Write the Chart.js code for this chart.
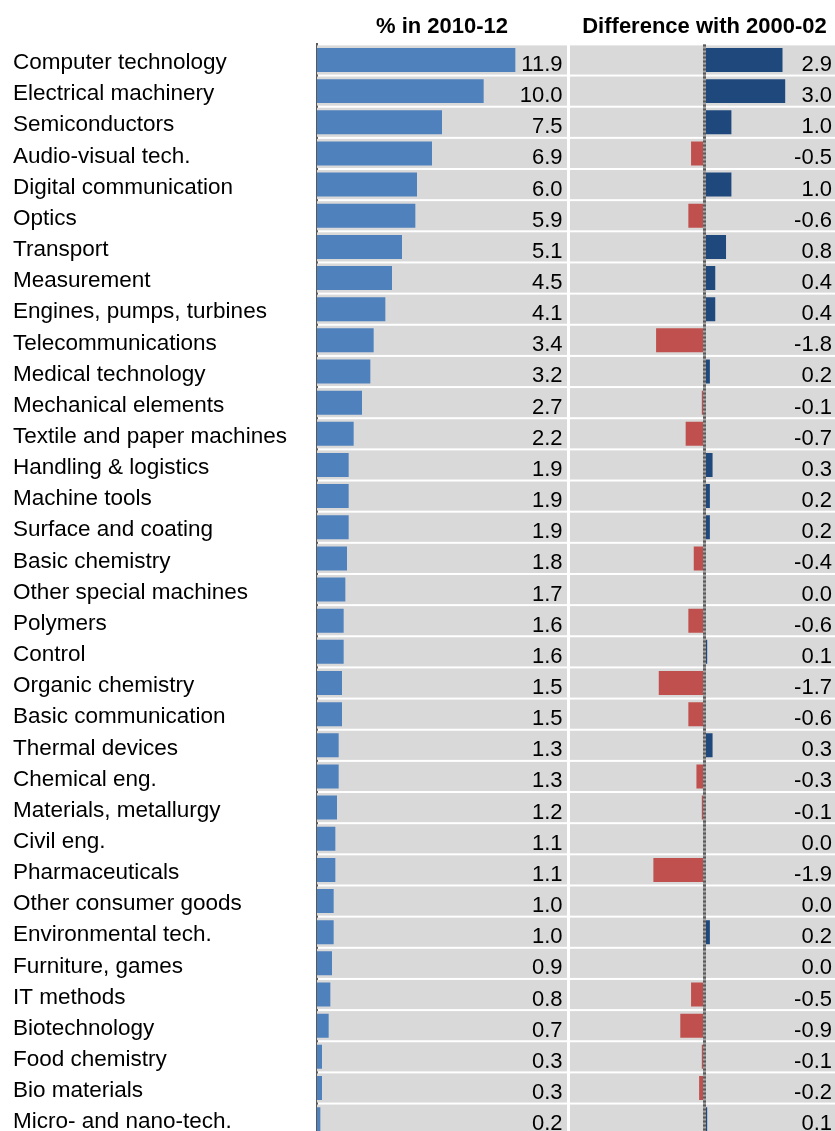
<!DOCTYPE html>
<html>
<head>
<meta charset="utf-8">
<script src="https://cdn.jsdelivr.net/npm/chart.js@4"></script>
<style>
    body { margin: 0; background: #fff; overflow: hidden; }
    .amb-chart { position: relative; width: 835px; height: 1131px; overflow: hidden; }
    #grafic-share { position: absolute; left: 0; top: 0; }
    #grafic-diff { position: absolute; left: 568px; top: 0; }
</style>
</head>
<body>
<div class="amb-chart">
    <canvas id="grafic-share" width="568" height="1140"></canvas>
    <canvas id="grafic-diff" width="275" height="1140"></canvas>
</div>
<script>
const categories = [
    'Computer technology', 'Electrical machinery', 'Semiconductors', 'Audio-visual tech.',
    'Digital communication', 'Optics', 'Transport', 'Measurement',
    'Engines, pumps, turbines', 'Telecommunications', 'Medical technology', 'Mechanical elements',
    'Textile and paper machines', 'Handling & logistics', 'Machine tools', 'Surface and coating',
    'Basic chemistry', 'Other special machines', 'Polymers', 'Control',
    'Organic chemistry', 'Basic communication', 'Thermal devices', 'Chemical eng.',
    'Materials, metallurgy', 'Civil eng.', 'Pharmaceuticals', 'Other consumer goods',
    'Environmental tech.', 'Furniture, games', 'IT methods', 'Biotechnology',
    'Food chemistry', 'Bio materials', 'Micro- and nano-tech.'
];

// share of patents 2010-12 (%)
const share2010 = [
    11.9, 10.0, 7.5, 6.9, 6.0, 5.9, 5.1, 4.5, 4.1, 3.4, 3.2, 2.7,
    2.2, 1.9, 1.9, 1.9, 1.8, 1.7, 1.6, 1.6, 1.5, 1.5, 1.3, 1.3,
    1.2, 1.1, 1.1, 1.0, 1.0, 0.9, 0.8, 0.7, 0.3, 0.3, 0.2
];

// difference with 2000-02 (percentage points)
const diff2000 = [
    2.9, 3.0, 1.0, -0.5, 1.0, -0.6, 0.8, 0.4, 0.4, -1.8, 0.2, -0.1,
    -0.7, 0.3, 0.2, 0.2, -0.4, 0.0, -0.6, 0.1, -1.7, -0.6, 0.3, -0.3,
    -0.1, 0.0, -1.9, 0.0, 0.2, 0.0, -0.5, -0.9, -0.1, -0.2, 0.1
];

const titles = ['% in 2010-12', 'Difference with 2000-02'];

const FONT = '"Liberation Sans", Arial, sans-serif';

//---------------------------- plugin: grey rows, values, header ---------------
function panelPlugin(title, values, labelInset, zeroLine) {
    return {
        id: 'panel',
        beforeDatasetsDraw(chart) {
            const ctx = chart.ctx;
            const area = chart.chartArea;
            const yScale = chart.scales.y;
            const step = (area.bottom - area.top) / categories.length;
            ctx.save();
            ctx.fillStyle = '#D9D9D9';
            categories.forEach(function (c, i) {
                const yc = yScale.getPixelForValue(i);
                ctx.fillRect(area.left, yc - step / 2 + 1, area.right - area.left, step - 2);
            });
            ctx.restore();
        },
        afterDatasetsDraw(chart) {
            const ctx = chart.ctx;
            const area = chart.chartArea;
            const yScale = chart.scales.y;
            ctx.save();
            if (zeroLine) {
                const x0 = chart.scales.x.getPixelForValue(0);
                ctx.lineWidth = 3;
                ctx.strokeStyle = '#A6A6A6';
                ctx.beginPath();
                ctx.moveTo(x0, area.top);
                ctx.lineTo(x0, area.bottom);
                ctx.stroke();
                ctx.strokeStyle = '#595959';
                ctx.setLineDash([2, 2]);
                ctx.beginPath();
                ctx.moveTo(x0, area.top);
                ctx.lineTo(x0, area.bottom);
                ctx.stroke();
                ctx.setLineDash([]);
            }
            ctx.fillStyle = '#000';
            ctx.font = '22px ' + FONT;
            ctx.textAlign = 'right';
            ctx.textBaseline = 'alphabetic';
            values.forEach(function (v, i) {
                const yc = yScale.getPixelForValue(i);
                ctx.fillText(v.toFixed(1), area.right - labelInset, yc + 11);
            });
            ctx.font = 'bold 22px ' + FONT;
            ctx.textAlign = 'center';
            ctx.fillText(title, (area.left + area.right) / 2, 33);
            ctx.restore();
        }
    };
}

//---------------------------- painel esquerdo: % in 2010-12 ---------------
const configShare = {
    type: 'bar',
    data: {
        labels: categories,
        datasets: [{
            data: share2010,
            backgroundColor: '#4F81BD',
            barPercentage: 0.77,
            categoryPercentage: 1
        }]
    },
    options: {
        indexAxis: 'y',
        responsive: false,
        animation: false,
        layout: { padding: { left: 13, top: 44.4, bottom: 5.3, right: 1 } },
        plugins: { legend: { display: false }, tooltip: { enabled: false } },
        scales: {
            x: { display: false, min: 0, max: 15 },
            y: {
                grid: { display: false },
                border: { display: true, color: '#595959', width: 2 },
                afterFit: function (scale) {
                    scale.width = 304;
                    scale.paddingTop = 0;
                    scale.paddingBottom = 0;
                },
                ticks: {
                    color: '#000',
                    crossAlign: 'far',
                    padding: 0,
                    labelOffset: 3,
                    autoSkip: false,
                    font: { size: 22.5, family: FONT }
                }
            }
        }
    },
    plugins: [panelPlugin(titles[0], share2010, 4.5, false)]
};

//---------------------------- painel direito: difference with 2000-02 ---------------
const configDiff = {
    type: 'bar',
    data: {
        labels: categories,
        datasets: [{
            data: diff2000,
            backgroundColor: function (c) { return c.raw >= 0 ? '#1F497D' : '#C0504D'; },
            barPercentage: 0.77,
            categoryPercentage: 1
        }]
    },
    options: {
        indexAxis: 'y',
        responsive: false,
        animation: false,
        layout: { padding: { left: 2, top: 44.4, bottom: 5.3, right: 4 } },
        plugins: { legend: { display: false }, tooltip: { enabled: false } },
        scales: {
            x: { display: false, min: -5, max: 5 },
            y: { display: false }
        }
    },
    plugins: [panelPlugin(titles[1], diff2000, 7, true)]
};

new Chart(document.getElementById('grafic-share'), configShare);
new Chart(document.getElementById('grafic-diff'), configDiff);
</script>
</body>
</html>
